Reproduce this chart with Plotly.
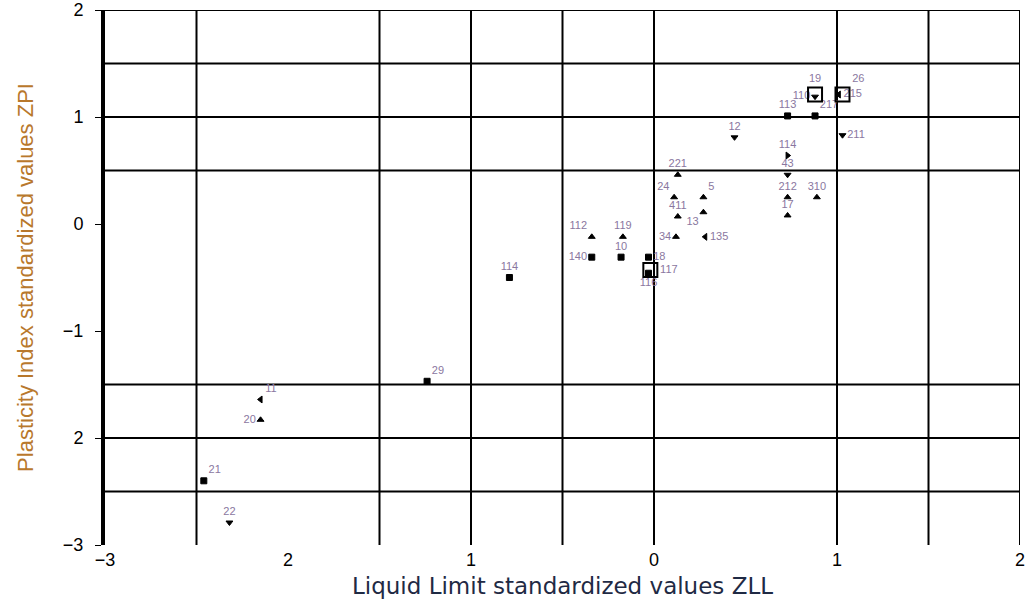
import plotly.graph_objects as go

# Standardized liquid limit (ZLL) and plasticity index (ZPI) per sample
sample_ids = ["29", "11", "20", "21", "22", "114", "112", "119", "140", "10",
              "18", "116", "34", "135", "221", "24", "5", "13", "411", "12",
              "114", "43", "212", "310", "17", "110", "215", "113", "217", "211"]
zll = [-1.24, -2.15, -2.15, -2.46, -2.32, -0.79, -0.34, -0.17, -0.34, -0.18,
       -0.03, -0.03, 0.12, 0.28, 0.13, 0.11, 0.27, 0.27, 0.13, 0.44,
       0.73, 0.73, 0.73, 0.89, 0.73, 0.88, 1.01, 0.73, 0.88, 1.03]
zpi = [-1.47, -1.64, -1.83, -2.40, -2.79, -0.50, -0.12, -0.12, -0.31, -0.31,
       -0.31, -0.46, -0.12, -0.12, 0.46, 0.25, 0.25, 0.11, 0.07, 0.81,
       0.64, 0.46, 0.25, 0.25, 0.08, 1.19, 1.21, 1.01, 1.01, 0.83]

# Boxed samples
boxed_ids = ["19", "26", "117"]
boxed_zll = [0.88, 1.03, -0.02]
boxed_zpi = [1.21, 1.21, -0.43]

# Axis tick labels
x_ticks = [-3, -2, -1, 0, 1, 2]
x_tick_text = ["\u22123", "2", "1", "0", "1", "2"]
y_ticks = [-3, -2, -1, 0, 1, 2]
y_tick_text = ["\u22123", "2", "\u22121", "0", "1", "2"]

# Grid line positions (including the top and right frame)
x_grid = [-2.5, -1.5, -1, -0.5, 0, 1, 1.5, 2]
y_grid = [-2.5, -2, -1.5, 0.5, 1, 1.5, 2]

symbols = ["square", "triangle-left", "triangle-up", "square", "triangle-down",
           "square", "triangle-up", "triangle-up", "square", "square",
           "square", "square", "triangle-up", "triangle-left", "triangle-up",
           "triangle-up", "triangle-up", "triangle-up", "triangle-up", "triangle-down",
           "triangle-right", "triangle-down", "triangle-up", "triangle-up", "triangle-up",
           "triangle-down", "triangle-left", "square", "square", "triangle-down"]
text_pos = ["top right", "top right", "middle left", "top right", "top center",
            "top center", "top left", "top center", "middle left", "top center",
            "middle right", "bottom center", "middle left", "middle right", "top center",
            "top left", "top right", "bottom left", "top center", "top center",
            "top center", "top center", "top center", "top center", "top center",
            "middle left", "middle right", "top center", "top right", "middle right"]

label_font = dict(family="Liberation Sans, Arial, sans-serif", size=11, color="#8a77a0")

fig = go.Figure()

for gx in x_grid:
    fig.add_vline(x=gx, line=dict(color="black", width=2), layer="below")
for gy in y_grid:
    fig.add_hline(y=gy, line=dict(color="black", width=2), layer="below")

fig.add_trace(go.Scatter(
    x=zll, y=zpi, mode="markers+text", text=sample_ids, textposition=text_pos,
    textfont=label_font,
    marker=dict(symbol=symbols, size=6, color="black",
                line=dict(color="black", width=1)),
    showlegend=False,
))

fig.add_trace(go.Scatter(
    x=boxed_zll, y=boxed_zpi, mode="markers+text", text=boxed_ids,
    textposition=["top center", "top right", "middle right"],
    textfont=label_font,
    marker=dict(symbol="square-open", size=14, color="black",
                line=dict(color="black", width=2)),
    showlegend=False,
))

tick_font = dict(family="Liberation Sans, Arial, sans-serif", size=18, color="black")

fig.update_layout(
    width=1027, height=603,
    margin=dict(l=105, r=7, t=10, b=58),
    paper_bgcolor="white", plot_bgcolor="white",
    xaxis=dict(
        type="linear", range=[-3, 2], tickmode="array", tickvals=x_ticks,
        ticktext=x_tick_text, automargin=False,
        showgrid=False, zeroline=False, showline=False, ticks="",
        tickfont=tick_font, ticklabelstandoff=2,
        title=dict(text="Liquid Limit standardized values ZLL",
                   font=dict(family="DejaVu Sans, sans-serif", size=23,
                             color="#1f2a44"), standoff=8),
    ),
    yaxis=dict(
        type="linear", range=[-3, 2], tickmode="array", tickvals=y_ticks,
        ticktext=y_tick_text, automargin=False,
        showgrid=False, zeroline=False, showline=True, linecolor="black", linewidth=4,
        ticks="outside", ticklen=6, tickcolor="black", tickwidth=1,
        tickfont=tick_font, ticklabelstandoff=8,
        title=dict(text="Plasticity Index standardized values ZPI",
                   font=dict(family="Liberation Sans Narrow, Liberation Sans, sans-serif",
                             size=22, color="#b8782c"), standoff=24),
    ),
)

fig.write_html("out.html")
